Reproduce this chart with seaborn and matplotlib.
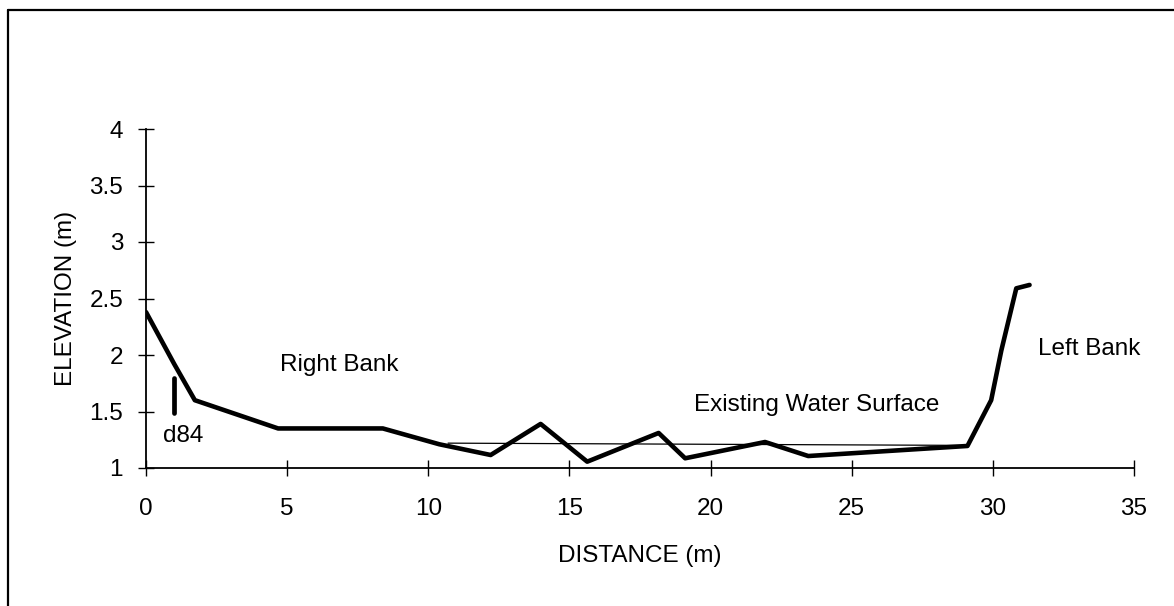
import matplotlib
matplotlib.use("Agg")
import matplotlib.pyplot as plt
from matplotlib.lines import Line2D
import seaborn as sns
import pandas as pd

# Surveyed cross-section profile
distance_m = [0.0, 1.0, 1.73, 4.68, 8.39, 10.39, 12.21, 13.98, 15.63, 18.16,
              19.1, 21.93, 23.46, 29.1, 29.94, 30.3, 30.83, 31.3]
elevation_m = [2.38, 1.92, 1.60, 1.35, 1.35, 1.21, 1.115, 1.39, 1.056, 1.31,
               1.086, 1.23, 1.106, 1.195, 1.60, 2.04, 2.59, 2.62]

# Existing water surface
water_x = [10.7, 29.1]
water_y = [1.22, 1.20]

# d84 grain-size marker
d84_x = [1.0, 1.0]
d84_y = [1.49, 1.80]

x_ticks = [0, 5, 10, 15, 20, 25, 30, 35]
y_ticks = [1, 1.5, 2, 2.5, 3, 3.5, 4]
y_tick_labels = ["1", "1.5", "2", "2.5", "3", "3.5", "4"]

sns.set_theme(style="white")
plt.rcParams["font.family"] = ["Liberation Sans", "DejaVu Sans"]
plt.rcParams["text.color"] = "black"
plt.rcParams["axes.labelcolor"] = "black"

fig = plt.figure(figsize=(11.74, 6.06), dpi=100)
ax = fig.add_axes([146 / 1174, 1 - 468 / 606, (1134 - 146) / 1174, (468 - 129) / 606])

profile = pd.DataFrame({"distance": distance_m, "elevation": elevation_m})
sns.lineplot(data=profile, x="distance", y="elevation", sort=False,
             estimator=None, color="black", linewidth=3.3, ax=ax)
sns.lineplot(x=water_x, y=water_y, sort=False, estimator=None,
             color="black", linewidth=0.9, ax=ax)
sns.lineplot(x=d84_x, y=d84_y, sort=False, estimator=None, color="black",
             linewidth=3.4, ax=ax, solid_capstyle="round")

fs = 17.5
ax.text(4.73, 1.91, "Right Bank", fontsize=fs, va="center", ha="left")
ax.text(0.6, 1.285, "d84", fontsize=fs, va="center", ha="left")
ax.text(19.43, 1.56, "Existing Water Surface", fontsize=fs, va="center", ha="left")
ax.text(31.6, 2.05, "Left Bank", fontsize=fs, va="center", ha="left")

ax.set_xlim(0, 35)
ax.set_ylim(1, 4)
ax.set_xticks(x_ticks)
ax.set_xticklabels([str(t) for t in x_ticks])
ax.set_yticks(y_ticks)
ax.set_yticklabels(y_tick_labels)

for side in ("top", "right"):
    ax.spines[side].set_visible(False)
for side in ("left", "bottom"):
    ax.spines[side].set_color("black")
    ax.spines[side].set_linewidth(1.3)

ax.tick_params(axis="both", which="major", bottom=True, left=True,
               direction="inout", length=11, width=1.0, color="black",
               labelcolor="black", labelsize=fs)
ax.tick_params(axis="y", pad=11)
ax.tick_params(axis="x", pad=16)
ax.set_xlabel("DISTANCE (m)", fontsize=fs, labelpad=18)
ax.set_ylabel("ELEVATION (m)", fontsize=fs, labelpad=9)
ax.grid(False)
ax.set_facecolor("white")

# Outer frame of the figure panel
fig.add_artist(Line2D([7.5 / 1174, 7.5 / 1174], [0, 1 - 9.5 / 606],
                      transform=fig.transFigure, color="black", linewidth=1.6))
fig.add_artist(Line2D([7.5 / 1174, 1], [1 - 9.5 / 606, 1 - 9.5 / 606],
                      transform=fig.transFigure, color="black", linewidth=1.6))

fig.savefig("out.png", dpi=100, facecolor="white")
